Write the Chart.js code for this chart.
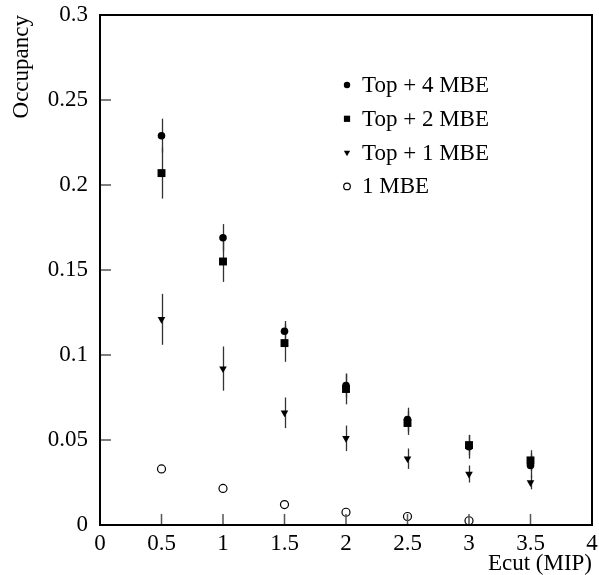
<!DOCTYPE html>
<html>
<head>
<meta charset="utf-8">
<title>Occupancy vs Ecut</title>
<script src="https://cdn.jsdelivr.net/npm/chart.js@4.4.1/dist/chart.umd.min.js"></script>
<style>
  html, body { margin: 0; padding: 0; background: #fff; }
</style>
</head>
<body>
<canvas id="occChart" width="599" height="575"></canvas>
<script>
// Energy cut values (MIP)
const ecutValues = [0.5, 1, 1.5, 2, 2.5, 3, 3.5];

// Occupancy per configuration, with symmetric errors
const top4Mbe = [0.229, 0.169, 0.114, 0.082, 0.062, 0.046, 0.035];
const top4MbeErr = [0.010, 0.008, 0.006, 0.007, 0.007, 0.007, 0.007];
const top2Mbe = [0.207, 0.155, 0.107, 0.080, 0.060, 0.047, 0.038];
const top2MbeErr = [0.015, 0.012, 0.011, 0.009, 0.007, 0.006, 0.006];
const top1Mbe = [0.121, 0.092, 0.066, 0.051, 0.039, 0.030, 0.025];
const top1MbeErr = [0.015, 0.013, 0.009, 0.0075, 0.006, 0.005, 0.004];
// 1 MBE alone has no point at 3.5
const oneMbeX = [0.5, 1, 1.5, 2, 2.5, 3];
const oneMbe = [0.033, 0.0215, 0.012, 0.0075, 0.005, 0.0025];

const xTickValues = [0, 0.5, 1, 1.5, 2, 2.5, 3, 3.5, 4];
const xTickLabels = ['0', '0.5', '1', '1.5', '2', '2.5', '3', '3.5', '4'];
const yTickValues = [0, 0.05, 0.1, 0.15, 0.2, 0.25, 0.3];
const yTickLabels = ['0', '0.05', '0.1', '0.15', '0.2', '0.25', '0.3'];

const serif = 'Liberation Serif, "Times New Roman", serif';
const tickFont = { family: serif, size: 23 };

function points(xs, ys) {
    return xs.map((x, i) => ({ x: x, y: ys[i] }));
}

const datasets = [
    {
        label: 'Top + 4 MBE',
        data: points(ecutValues, top4Mbe),
        errors: top4MbeErr,
        pointStyle: 'circle',
        pointRadius: 3.8,
        legendRadius: 3.2,
        pointRotation: 0,
        backgroundColor: '#000',
        borderColor: '#000',
        pointBorderWidth: 0
    },
    {
        label: 'Top + 2 MBE',
        data: points(ecutValues, top2Mbe),
        errors: top2MbeErr,
        pointStyle: 'rect',
        pointRadius: 5.6,
        legendRadius: 4.4,
        pointRotation: 0,
        backgroundColor: '#000',
        borderColor: '#000',
        pointBorderWidth: 0
    },
    {
        label: 'Top + 1 MBE',
        data: points(ecutValues, top1Mbe),
        errors: top1MbeErr,
        pointStyle: 'triangle',
        pointRadius: 4.4,
        legendRadius: 3.6,
        pointRotation: 180,
        backgroundColor: '#000',
        borderColor: '#000',
        pointBorderWidth: 0
    },
    {
        label: '1 MBE',
        data: points(oneMbeX, oneMbe),
        errors: null,
        pointStyle: 'circle',
        pointRadius: 4,
        legendRadius: 3.3,
        pointRotation: 0,
        backgroundColor: '#fff',
        borderColor: '#000',
        pointBorderWidth: 1.2
    }
];

// vertical error bars, drawn under the markers
const errorBars = {
    id: 'errorBars',
    beforeDatasetsDraw(chart) {
        const ctx = chart.ctx;
        const xs = chart.scales.x, ys = chart.scales.y;
        ctx.save();
        ctx.strokeStyle = '#333';
        ctx.lineWidth = 1.3;
        chart.data.datasets.forEach(ds => {
            if (!ds.errors) return;
            ds.data.forEach((p, i) => {
                const px = Math.round(xs.getPixelForValue(p.x)) + 0.5;
                ctx.beginPath();
                ctx.moveTo(px, ys.getPixelForValue(p.y + ds.errors[i]));
                ctx.lineTo(px, ys.getPixelForValue(p.y - ds.errors[i]));
                ctx.stroke();
            });
        });
        ctx.restore();
    }
};

// box around the plot with inward tick marks on left and bottom
const frameAndTicks = {
    id: 'frameAndTicks',
    afterDatasetsDraw(chart) {
        const ctx = chart.ctx;
        const a = chart.chartArea;
        const xs = chart.scales.x, ys = chart.scales.y;
        ctx.save();
        ctx.strokeStyle = '#555';
        ctx.lineWidth = 1.5;
        ctx.beginPath();
        xTickValues.forEach(v => {
            const px = xs.getPixelForValue(v);
            ctx.moveTo(px, a.bottom);
            ctx.lineTo(px, a.bottom - 11);
        });
        yTickValues.forEach(v => {
            const py = ys.getPixelForValue(v);
            ctx.moveTo(a.left, py);
            ctx.lineTo(a.left + 11, py);
        });
        ctx.stroke();
        ctx.strokeStyle = '#000';
        ctx.lineWidth = 2;
        ctx.strokeRect(a.left, a.top, a.right - a.left, a.bottom - a.top);
        ctx.restore();
    }
};

// legend placed inside the plot area
const insideLegend = {
    id: 'insideLegend',
    afterDraw(chart) {
        const ctx = chart.ctx;
        const a = chart.chartArea;
        const markX = a.left + 247;
        const textX = a.left + 262;
        let rowY = a.top + 70;
        ctx.save();
        ctx.font = '23px ' + serif;
        ctx.textBaseline = 'middle';
        ctx.textAlign = 'left';
        chart.data.datasets.forEach(ds => {
            ctx.fillStyle = ds.backgroundColor;
            ctx.strokeStyle = ds.borderColor;
            ctx.lineWidth = ds.pointBorderWidth;
            Chart.helpers.drawPoint(ctx, {
                pointStyle: ds.pointStyle,
                rotation: ds.pointRotation,
                radius: ds.legendRadius,
                borderWidth: ds.pointBorderWidth
            }, markX, rowY);
            ctx.fillStyle = '#000';
            ctx.fillText(ds.label, textX, rowY + 1);
            rowY += 33.8;
        });
        ctx.restore();
    }
};

new Chart(document.getElementById('occChart'), {
    type: 'scatter',
    data: { datasets: datasets },
    options: {
        responsive: false,
        animation: false,
        layout: { padding: { top: 15, right: 7, left: 0, bottom: 0 } },
        plugins: {
            legend: { display: false },
            tooltip: { enabled: false }
        },
        scales: {
            x: {
                type: 'linear',
                min: 0,
                max: 4,
                grid: { display: false, drawTicks: false },
                border: { display: false },
                afterBuildTicks(scale) {
                    scale.ticks = xTickValues.map(v => ({ value: v }));
                },
                afterFit(scale) {
                    scale.height = 50;
                    scale.paddingLeft = 0;
                    scale.paddingRight = 0;
                },
                ticks: {
                    color: '#000',
                    font: tickFont,
                    padding: 5,
                    maxRotation: 0,
                    autoSkip: false,
                    callback: (v, i) => xTickLabels[i]
                },
                title: {
                    display: true,
                    text: 'Ecut (MIP)',
                    align: 'end',
                    color: '#000',
                    font: tickFont,
                    padding: { top: 0, bottom: -3 }
                }
            },
            y: {
                type: 'linear',
                min: 0,
                max: 0.3,
                grid: { display: false, drawTicks: false },
                border: { display: false },
                afterBuildTicks(scale) {
                    scale.ticks = yTickValues.map(v => ({ value: v }));
                },
                afterFit(scale) {
                    scale.width = 100;
                    scale.paddingTop = 0;
                    scale.paddingBottom = 0;
                },
                ticks: {
                    color: '#000',
                    font: tickFont,
                    padding: 12,
                    autoSkip: false,
                    callback: (v, i) => yTickLabels[i]
                },
                title: {
                    display: true,
                    text: 'Occupancy',
                    align: 'end',
                    color: '#000',
                    font: tickFont,
                    padding: { top: 8, bottom: 0 }
                }
            }
        }
    },
    plugins: [errorBars, frameAndTicks, insideLegend]
});
</script>
</body>
</html>
